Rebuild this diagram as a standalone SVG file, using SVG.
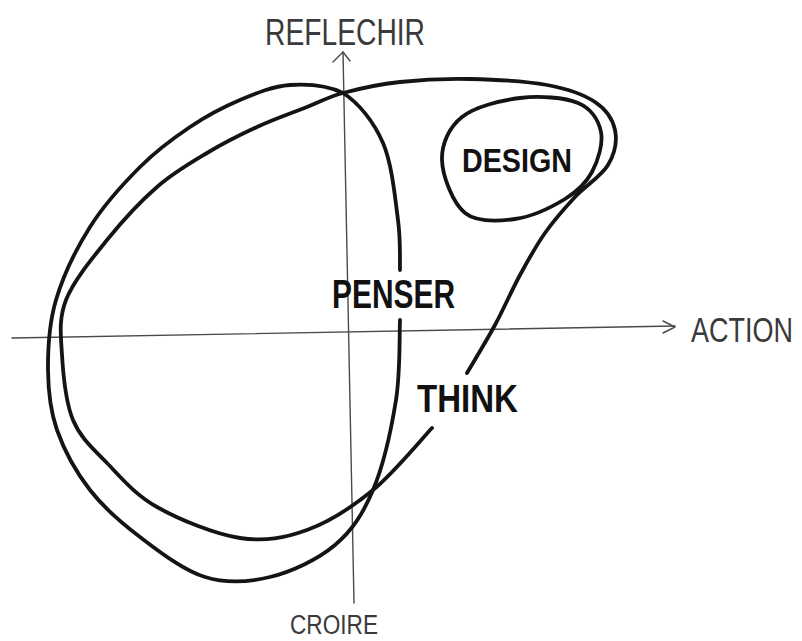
<svg xmlns="http://www.w3.org/2000/svg" width="802" height="641" viewBox="0 0 802 641">
<style>
.axis{fill:none;stroke:#4a4a4a;stroke-width:1.4;stroke-linecap:round;stroke-linejoin:round}
.curve{fill:none;stroke:#141414;stroke-width:3.8;stroke-linecap:round;stroke-linejoin:round}
.lbl{font-family:"Liberation Sans","DejaVu Sans",sans-serif;fill:#3a3a3a}
.big{font-family:"Liberation Sans","DejaVu Sans",sans-serif;font-weight:bold;fill:#111}
</style>
<rect width="802" height="641" fill="#ffffff"/>
<g id="connectors">
  <g id="axis-x">
    <path class="axis" d="M12 338 L675 326"/>
    <path class="axis" d="M663 321 L675 327 L663 333"/>
  </g>
  <g id="axis-y">
    <path class="axis" d="M343 52 L354 603"/>
    <path class="axis" d="M333 62 L343 52 L350 61"/>
  </g>
</g>
<g id="penser-loop">
  <path class="curve" d="M400 320 C399.3 333.3 400.5 371.7 396 400 C391.5 428.3 383.2 465.8 373 490 C362.8 514.2 352.2 530.5 335 545 C317.8 559.5 291.7 571.7 270 577 C248.3 582.3 226.7 583.7 205 577 C183.3 570.3 159.2 551.5 140 537 C120.8 522.5 103.8 507.8 90 490 C76.2 472.2 64 450 57 430 C50 410 48.2 391.7 48 370 C47.8 348.3 49 323.8 56 300 C63 276.2 76 249.2 90 227 C104 204.8 123.3 183.7 140 167 C156.7 150.3 173.3 138.2 190 127 C206.7 115.8 223.3 107 240 100 C256.7 93 272.8 86.2 290 85 C307.2 83.8 327.5 85.3 343 93 C358.5 102.7 373.8 121.8 383 143 C392.2 164.2 395.2 199.2 398 220 C400.8 240.8 399.7 260 400 270"/>
</g>
<g id="think-loop">
  <path class="curve" d="M432 428 C422.2 438.3 393.8 473 373 490 C352.2 507 329.2 522 307 530 C284.8 538 265 541.8 240 538 C215 534.2 179.2 519.5 157 507 C134.8 494.5 121 477.5 107 463 C93 448.5 80.5 438 73 420 C65.5 402 63.2 375 62 355 C60.8 335 58.5 319.2 66 300 C73.5 280.8 91.8 258.8 107 240 C122.2 221.2 140.3 201.5 157 187 C173.7 172.5 190.3 163 207 153 C223.7 143 240.3 134.7 257 127 C273.7 119.3 292.7 112.7 307 107 C321.3 101.3 327.5 97.2 343 93 C358.5 88.8 378.8 84.3 400 82 C421.2 79.7 445.5 78.5 470 79 C494.5 79.5 526.2 81.2 547 85 C567.8 88.8 583.7 94.5 595 102 C606.3 109.5 612.8 119.5 615 130 C617.2 140.5 614.7 153.8 608 165 C601.3 176.2 585.5 185.7 575 197 C564.5 208.3 554.2 220 545 233 C535.8 246 528.3 259.7 520 275 C511.7 290.3 503.8 308.7 495 325 C486.2 341.3 471.7 365 467 373"/>
</g>
<g id="design">
  <path class="curve" d="M442 160 C441.5 144 449 127.3 462 117 C475 106.7 500.7 100.3 520 98 C539.3 95.7 564.5 97.3 578 103 C591.5 108.7 598.7 120.5 601 132 C603.3 143.5 598 160.8 592 172 C586 183.2 577.8 191.2 565 199 C552.2 206.8 531.7 216.7 515 219 C498.3 221.3 477.2 222.8 465 213 C452.8 203.2 442.5 176 442 160 Z"/>
  <text class="big" x="462" y="172" font-size="33" textLength="110" lengthAdjust="spacingAndGlyphs">DESIGN</text>
</g>
<g id="penser">
  <text class="big" x="332" y="308" font-size="40" textLength="123" lengthAdjust="spacingAndGlyphs">PENSER</text>
</g>
<g id="think">
  <text class="big" x="417" y="412" font-size="38" textLength="101" lengthAdjust="spacingAndGlyphs">THINK</text>
</g>
<g id="reflechir">
  <text class="lbl" x="265" y="45" font-size="36" textLength="160" lengthAdjust="spacingAndGlyphs">REFLECHIR</text>
</g>
<g id="action">
  <text class="lbl" transform="translate(691 342) scale(1 1.3)" x="0" y="0" font-size="27">ACTION</text>
</g>
<g id="croire">
  <text class="lbl" x="290" y="634" font-size="27" textLength="88" lengthAdjust="spacingAndGlyphs">CROIRE</text>
</g>
</svg>
